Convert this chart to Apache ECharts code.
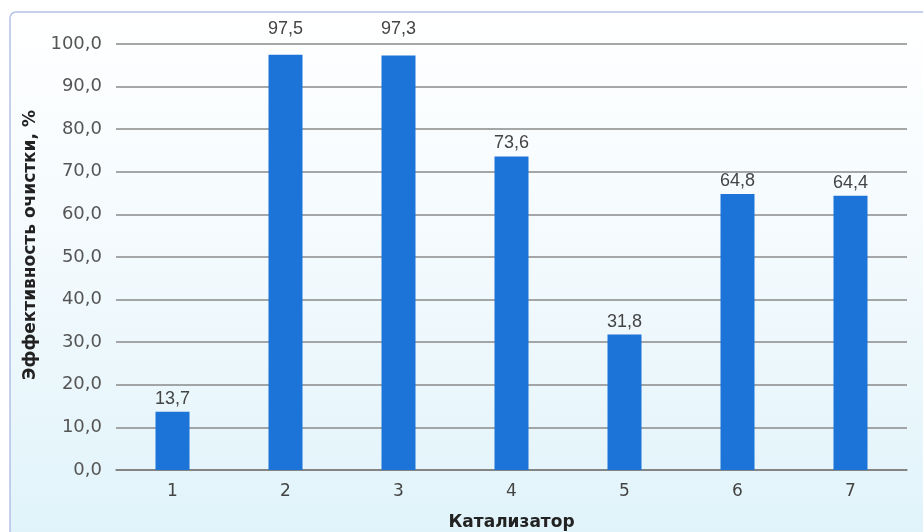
<!DOCTYPE html>
<html>
<head>
<meta charset="utf-8">
<script src="https://cdn.jsdelivr.net/npm/echarts@6/dist/echarts.min.js"></script>
<style>
  html, body { margin: 0; padding: 0; background: #ffffff; }
  #chart { width: 923px; height: 532px; }
</style>
</head>
<body>
<div id="chart"></div>
<script>
// Catalyst numbers and cleaning efficiency, %
const catalysts = ['1', '2', '3', '4', '5', '6', '7'];
const efficiency = [13.7, 97.5, 97.3, 73.6, 31.8, 64.8, 64.4];

const xTitle = 'Катализатор';
const yTitle = 'Эффективность очистки, %';

const fmt = v => v.toFixed(1).replace('.', ',');
const axisFont = 'DejaVu Sans, Verdana, sans-serif';

// Labels of bars reaching the top gridline are lifted above that line
const barData = efficiency.map(v => v > 95 ? { value: v, label: { distance: 17 } } : v);

const chart = echarts.init(document.getElementById('chart'));
chart.setOption({
  backgroundColor: '#ffffff',
  textStyle: { fontFamily: axisFont },
  graphic: [{
    type: 'rect',
    z: -10,
    silent: true,
    shape: { x: 10, y: 12, width: 930, height: 540, r: 6 },
    style: {
      fill: new echarts.graphic.LinearGradient(0, 0, 0, 1, [
        { offset: 0, color: '#ffffff' },
        { offset: 0.45, color: '#f3fafd' },
        { offset: 1, color: '#dff3fa' }
      ]),
      stroke: '#b4c0e6',
      lineWidth: 1.5
    }
  }],
  grid: { left: 116, right: 16, top: 44, bottom: 62, outerBoundsMode: 'none', containLabel: false },
  xAxis: {
    type: 'category',
    data: catalysts,
    name: xTitle,
    nameLocation: 'middle',
    nameGap: 44,
    nameTextStyle: { fontSize: 17, fontWeight: 'bold', color: '#222', fontFamily: axisFont },
    axisLine: { lineStyle: { color: '#7a7a7a', width: 1.5 } },
    axisTick: { show: false },
    axisLabel: { fontSize: 17, color: '#444', margin: 13, fontFamily: axisFont }
  },
  yAxis: {
    type: 'value',
    min: 0,
    max: 100,
    interval: 10,
    name: yTitle,
    nameLocation: 'middle',
    nameGap: 71,
    nameTextStyle: {
      fontSize: 17, fontWeight: 'bold', color: '#222', fontFamily: axisFont,
      padding: [0, 0, 0, 24]
    },
    axisLine: { show: false },
    axisTick: { show: false },
    axisLabel: { fontSize: 18, color: '#555', margin: 14, fontFamily: axisFont, formatter: v => fmt(v) },
    splitLine: { lineStyle: { color: '#8a8a8a', width: 1.5 } }
  },
  series: [{
    type: 'bar',
    data: barData,
    barWidth: 34,
    itemStyle: { color: '#1c74d8' },
    label: {
      show: true,
      position: 'top',
      distance: 4,
      fontSize: 18,
      fontFamily: 'Liberation Sans, Arial, sans-serif',
      color: '#444',
      formatter: p => fmt(p.value)
    }
  }]
});
</script>
</body>
</html>
